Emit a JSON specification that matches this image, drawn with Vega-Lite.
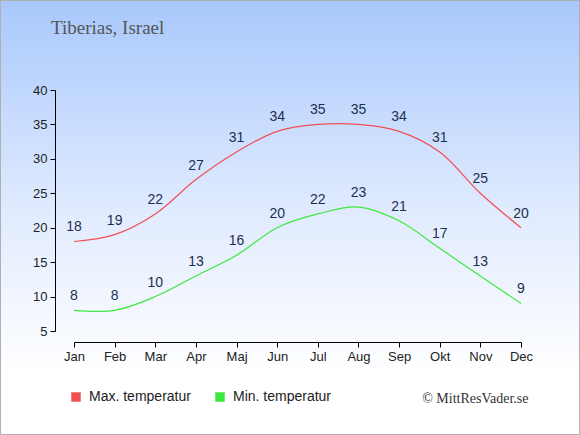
{
  "$schema": "https://vega.github.io/schema/vega-lite/v6.json",
  "width": 580,
  "height": 435,
  "autosize": "none",
  "padding": 0,
  "background": "white",
  "title": {
    "text": "Tiberias, Israel",
    "anchor": "start",
    "frame": "group",
    "orient": "top",
    "font": "Liberation Serif",
    "fontSize": 19,
    "fontWeight": "normal",
    "color": "#555555",
    "baseline": "alphabetic",
    "offset": 0,
    "dx": 51,
    "dy": 53
  },
  "config": {
    "view": {
      "fill": {
        "gradient": "linear",
        "x1": 0, "y1": 0, "x2": 0, "y2": 1,
        "stops": [
          {"offset": 0, "color": "#a8c8fc"},
          {"offset": 0.5, "color": "#e2ecff"},
          {"offset": 0.86, "color": "#ffffff"},
          {"offset": 1, "color": "#ffffff"}
        ]
      },
      "stroke": "#b0b0b0",
      "strokeWidth": 2
    },
    "axis": {
      "labelFont": "Liberation Sans",
      "labelFontSize": 13,
      "labelColor": "#222222",
      "domainColor": "#000000",
      "tickColor": "#000000",
      "tickSize": 5,
      "grid": false
    }
  },
  "data": {
    "values": [
      {"month": 1, "temp": 18, "series": "Max. temperatur"},
      {"month": 2, "temp": 19, "series": "Max. temperatur"},
      {"month": 3, "temp": 22, "series": "Max. temperatur"},
      {"month": 4, "temp": 27, "series": "Max. temperatur"},
      {"month": 5, "temp": 31, "series": "Max. temperatur"},
      {"month": 6, "temp": 34, "series": "Max. temperatur"},
      {"month": 7, "temp": 35, "series": "Max. temperatur"},
      {"month": 8, "temp": 35, "series": "Max. temperatur"},
      {"month": 9, "temp": 34, "series": "Max. temperatur"},
      {"month": 10, "temp": 31, "series": "Max. temperatur"},
      {"month": 11, "temp": 25, "series": "Max. temperatur"},
      {"month": 12, "temp": 20, "series": "Max. temperatur"},
      {"month": 1, "temp": 8, "series": "Min. temperatur"},
      {"month": 2, "temp": 8, "series": "Min. temperatur"},
      {"month": 3, "temp": 10, "series": "Min. temperatur"},
      {"month": 4, "temp": 13, "series": "Min. temperatur"},
      {"month": 5, "temp": 16, "series": "Min. temperatur"},
      {"month": 6, "temp": 20, "series": "Min. temperatur"},
      {"month": 7, "temp": 22, "series": "Min. temperatur"},
      {"month": 8, "temp": 23, "series": "Min. temperatur"},
      {"month": 9, "temp": 21, "series": "Min. temperatur"},
      {"month": 10, "temp": 17, "series": "Min. temperatur"},
      {"month": 11, "temp": 13, "series": "Min. temperatur"},
      {"month": 12, "temp": 9, "series": "Min. temperatur"}
    ]
  },
  "encoding": {
    "x": {
      "field": "month",
      "type": "quantitative",
      "scale": {"domain": [1, 12], "range": [74, 521], "nice": false, "zero": false},
      "axis": {
        "values": [1, 2, 3, 4, 5, 6, 7, 8, 9, 10, 11, 12],
        "labelExpr": "['Jan','Feb','Mar','Apr','Maj','Jun','Jul','Aug','Sep','Okt','Nov','Dec'][datum.value - 1]",
        "labelFlush": false,
        "labelBound": false,
        "offset": -93,
        "labelPadding": 3,
        "title": "© MittResVader.se",
        "titleFont": "Liberation Serif",
        "titleFontSize": 14,
        "titleFontWeight": "normal",
        "titleColor": "#333333",
        "titleX": 528,
        "titleY": 56,
        "titleAlign": "right",
        "titleBaseline": "middle",
        "titleAnchor": null
      }
    },
    "y": {
      "field": "temp",
      "type": "quantitative",
      "scale": {"domain": [5, 40], "range": [331, 90], "nice": false, "zero": false},
      "axis": {
        "values": [5, 10, 15, 20, 25, 30, 35, 40],
        "offset": -55,
        "labelPadding": 3,
        "labelFlush": false,
        "title": null
      }
    }
  },
  "layer": [
    {
      "mark": {"type": "line", "interpolate": "catmull-rom", "strokeWidth": 1.2},
      "encoding": {
        "color": {
          "field": "series",
          "type": "nominal",
          "scale": {"domain": ["Max. temperatur", "Min. temperatur"], "range": ["#f05050", "#3ee83e"]},
          "legend": {
            "title": null,
            "orient": "none",
            "direction": "horizontal",
            "legendX": 69,
            "legendY": 390,
            "symbolType": "square",
            "symbolSize": 90,
            "symbolStrokeWidth": 0,
            "labelFont": "Liberation Sans",
            "labelFontSize": 14,
            "labelColor": "#222222",
            "labelOffset": 6,
            "columnPadding": 22,
            "encode": {
              "symbols": {"update": {"fill": {"scale": "color", "field": "value"}}}
            }
          }
        }
      }
    },
    {
      "mark": {"type": "text", "dy": -14, "font": "Liberation Sans", "fontSize": 14, "color": "#1f2f4f"},
      "encoding": {"text": {"field": "temp", "type": "quantitative"}}
    }
  ]
}
